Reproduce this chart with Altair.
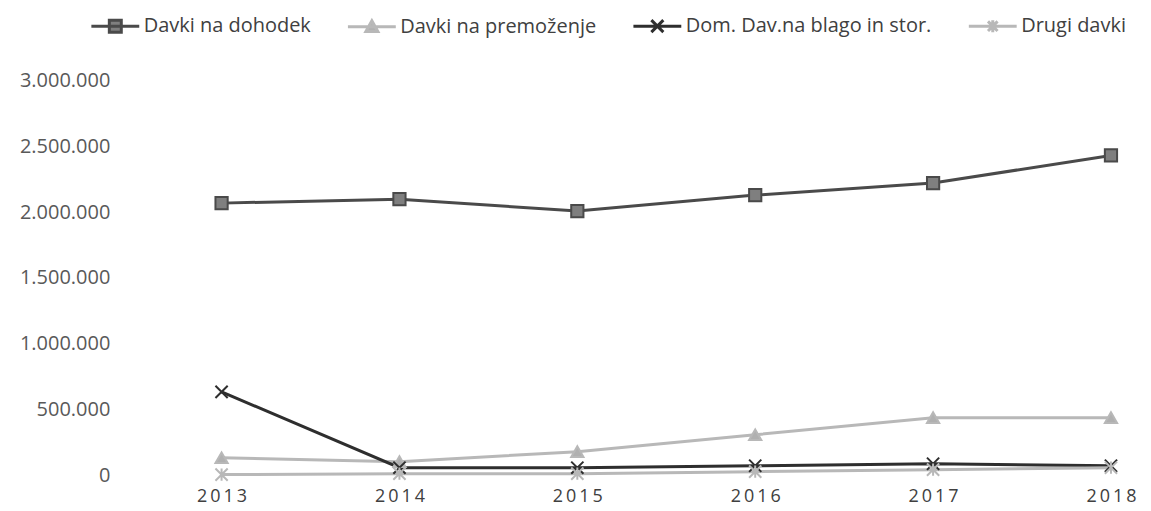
import altair as alt
import pandas as pd

years = [2013, 2014, 2015, 2016, 2017, 2018]
series = ["Davki na dohodek", "Davki na premoženje", "Dom. Dav.na blago in stor.", "Drugi davki"]
dohodek = [2068000, 2098000, 2008000, 2129000, 2220000, 2430000]
premozenje = [136000, 106000, 182000, 310000, 440000, 440000]
dom = [636000, 60000, 60000, 75000, 90000, 75000]
drugi = [8000, 15000, 15000, 30000, 45000, 60000]

rows = []
for name, vals in zip(series, [dohodek, premozenje, dom, drugi]):
    for i, (y, v) in enumerate(zip(years, vals)):
        rows.append({"leto": y, "serija": name, "vrednost": v, "order": i})
df = pd.DataFrame(rows)

line_colors = ["#4a4a4a", "#b8b8b8", "#2e2e2e", "#b8b8b8"]
fill_colors = ["#7f7f7f", "#b0b0b0", "#2e2e2e", "#b8b8b8"]
marker_shapes = [
    "square",
    "triangle-up",
    "M-1,-1L1,1M-1,1L1,-1",
    "M-1,-1L1,1M-1,1L1,-1M0,-1V1",
]
legend_shapes = [
    "M-1,0H1M-0.25,-0.25H0.25V0.25H-0.25Z",
    "M-1,0H1M0,-0.25L0.25,0.2H-0.25Z",
    "M-1,0H1M-0.25,-0.25L0.25,0.25M-0.25,0.25L0.25,-0.25",
    "M-1,0H1M-0.2,-0.2L0.2,0.2M-0.2,0.2L0.2,-0.2M0,-0.25V0.25",
]

FONT = "Open Sans"
x_enc = alt.X("leto:Q", scale=alt.Scale(domain=[2012.484, 2018.152], nice=False, zero=False),
              axis=alt.Axis(values=years, grid=False, domain=False, ticks=False,
                            labelExpr="join(split(format(datum.value, 'd'), ''), '\u2009')",
                            labelFontSize=18, labelColor="#404040", labelPadding=12, title=None,
                            labelFont=FONT))
y_enc = alt.Y("vrednost:Q", scale=alt.Scale(domain=[0, 3000000], nice=False),
              axis=alt.Axis(values=[0, 500000, 1000000, 1500000, 2000000, 2500000, 3000000],
                            labelExpr="replace(format(datum.value, ','), /,/g, '.')",
                            grid=False, domain=False, ticks=False, labelFontSize=20,
                            labelColor="#595959", labelPadding=20, title=None, labelFont=FONT))

stroke_scale = alt.Scale(domain=series, range=line_colors)
fill_scale = alt.Scale(domain=series, range=fill_colors)

lines = alt.Chart(df).mark_line(strokeWidth=3).encode(
    x=x_enc, y=y_enc,
    color=alt.Color("serija:N", scale=stroke_scale, legend=None),
    order="order:Q",
)

points = alt.Chart(df).mark_point(filled=True, size=150, opacity=1, strokeWidth=2).encode(
    x=x_enc, y=y_enc,
    fill=alt.Fill("serija:N", scale=fill_scale, legend=None),
    stroke=alt.Stroke("serija:N", scale=stroke_scale, legend=None),
    shape=alt.Shape("serija:N", scale=alt.Scale(domain=series, range=marker_shapes), legend=None),
)

leg = alt.Legend(orient="none", legendX=-40, legendY=-80, direction="horizontal", title=None,
                 symbolSize=2300, symbolStrokeWidth=3, symbolOpacity=1, labelFontSize=20,
                 labelColor="#404040", labelFont=FONT, columnPadding=30, labelOffset=3,
                 labelLimit=400)

legend_layer = alt.Chart(df).mark_point(filled=True, opacity=0).encode(
    x=x_enc, y=y_enc,
    fill=alt.Fill("serija:N", scale=alt.Scale(domain=series, range=fill_colors), legend=leg),
    stroke=alt.Stroke("serija:N", scale=alt.Scale(domain=series, range=line_colors), legend=leg),
    shape=alt.Shape("serija:N", scale=alt.Scale(domain=series, range=legend_shapes), legend=leg),
)

chart = alt.layer(lines, points, legend_layer).resolve_scale(
    shape="independent", fill="independent", stroke="independent"
).properties(
    width=1010, height=396,
    autosize=alt.AutoSizeParams(type="none"),
    padding={"left": 122, "top": 72, "right": 5, "bottom": 35},
).configure_view(stroke=None)

chart.save("out.html", embed_options={"renderer": "svg", "actions": False})
